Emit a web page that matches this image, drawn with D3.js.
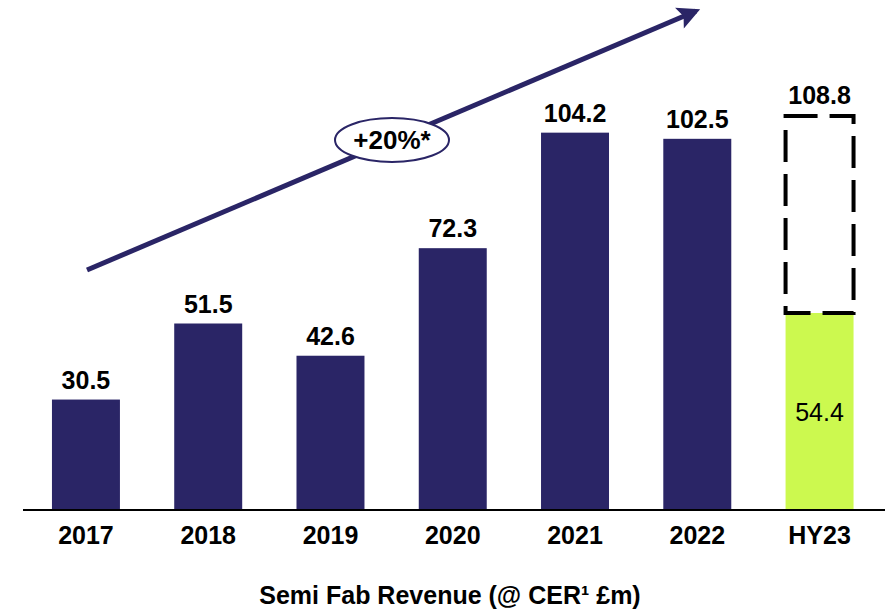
<!DOCTYPE html>
<html>
<head>
<meta charset="utf-8">
<script src="https://cdn.jsdelivr.net/npm/d3@7"></script>
<style>
  body { margin: 0; background: #fff; }
  svg text { font-family: "Liberation Sans", Arial, sans-serif; }
</style>
</head>
<body>
<div id="chart"></div>
<script>
// data
const categories = ["2017", "2018", "2019", "2020", "2021", "2022", "HY23"];
const revenue = [30.5, 51.5, 42.6, 72.3, 104.2, 102.5, 54.4];
const fullYearHY23 = 108.8;
const cagrLabel = "+20%*";
const axisTitle = "Semi Fab Revenue (@ CER\u00b9 \u00a3m)";

const width = 889, height = 610;
const navy = "#2a2566", lime = "#ccf94f";

const svg = d3.select("#chart").append("svg")
  .attr("width", width)
  .attr("height", height);

const x = d3.scaleBand()
  .domain(categories)
  .range([27.5, 878])
  .paddingInner(0.444)
  .paddingOuter(0.2);

const y = d3.scaleLinear()
  .domain([0, fullYearHY23])
  .range([510, 116]);

// bars
svg.selectAll(".bar")
  .data(categories)
  .enter().append("rect")
  .attr("class", "bar")
  .attr("x", d => x(d))
  .attr("width", x.bandwidth())
  .attr("y", (d, i) => y(revenue[i]))
  .attr("height", (d, i) => y(0) - y(revenue[i]))
  .attr("fill", d => d == "HY23" ? lime : navy);

// dashed outline for full-year projection
svg.append("rect")
  .attr("x", x("HY23"))
  .attr("width", x.bandwidth())
  .attr("y", y(fullYearHY23))
  .attr("height", y(revenue[6]) - y(fullYearHY23))
  .attr("fill", "none")
  .attr("stroke", "#000")
  .attr("stroke-width", 4)
  .attr("stroke-dasharray", "32,12");

// value labels
svg.selectAll(".val")
  .data(categories)
  .enter().append("text")
  .attr("class", "val")
  .attr("x", d => x(d) + x.bandwidth() / 2)
  .attr("y", (d, i) => d == "HY23" ? y(fullYearHY23) - 12 : y(revenue[i]) - 11)
  .attr("text-anchor", "middle")
  .attr("font-size", 25)
  .attr("font-weight", "bold")
  .text((d, i) => d == "HY23" ? fullYearHY23.toFixed(1) : revenue[i].toFixed(1));

svg.append("text")
  .attr("x", x("HY23") + x.bandwidth() / 2)
  .attr("y", y(revenue[6] / 2) + 9)
  .attr("text-anchor", "middle")
  .attr("font-size", 25)
  .text(revenue[6].toFixed(1));

// axis
const xAxis = svg.append("g")
  .attr("transform", "translate(0,510)")
  .call(d3.axisBottom(x).tickSize(0).tickPadding(15));
xAxis.select(".domain")
  .attr("d", "M23,0H885")
  .attr("stroke", "#000")
  .attr("stroke-width", 2);
xAxis.selectAll("text")
  .attr("font-family", "Liberation Sans, Arial, sans-serif")
  .attr("font-size", 25)
  .attr("font-weight", "bold")
  .attr("fill", "#000")
  .attr("dy", null)
  .attr("y", 34);

svg.append("text")
  .attr("x", 450)
  .attr("y", 604)
  .attr("text-anchor", "middle")
  .attr("font-size", 25)
  .attr("font-weight", "bold")
  .text(axisTitle);

// growth arrow
svg.append("defs").append("marker")
  .attr("id", "head")
  .attr("viewBox", "0 0 10 10")
  .attr("refX", 8)
  .attr("refY", 5)
  .attr("markerWidth", 5)
  .attr("markerHeight", 4.5)
  .attr("markerUnits", "strokeWidth")
  .attr("orient", "auto")
  .append("path")
  .attr("d", "M0,0L10,5L0,10L2,5Z")
  .attr("fill", navy);

svg.append("line")
  .attr("x1", 87).attr("y1", 270)
  .attr("x2", 696).attr("y2", 11)
  .attr("stroke", navy)
  .attr("stroke-width", 5)
  .attr("marker-end", "url(#head)");

svg.append("ellipse")
  .attr("cx", 392).attr("cy", 140)
  .attr("rx", 57).attr("ry", 22)
  .attr("fill", "#fff")
  .attr("stroke", navy)
  .attr("stroke-width", 2);

svg.append("text")
  .attr("x", 392).attr("y", 149)
  .attr("text-anchor", "middle")
  .attr("font-size", 26)
  .attr("font-weight", "bold")
  .text(cagrLabel);
</script>
</body>
</html>
